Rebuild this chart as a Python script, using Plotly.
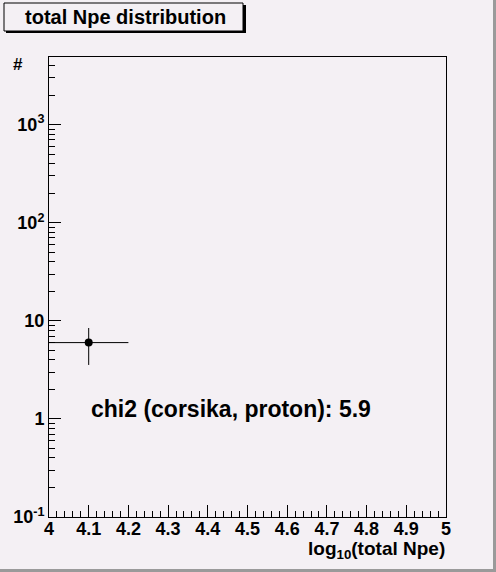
import plotly.graph_objects as go

# ---- data ----
bin_centers = [4.1]
counts = [6]
count_err = [2.45]
bin_half_width = [0.1]

x_tick_vals = [4.0, 4.1, 4.2, 4.3, 4.4, 4.5, 4.6, 4.7, 4.8, 4.9, 5.0]
x_tick_text = ["4", "4.1", "4.2", "4.3", "4.4", "4.5", "4.6", "4.7", "4.8", "4.9", "5"]
y_tick_vals = [0.1, 1, 10, 100, 1000]
y_tick_text = ["10<sup>-1</sup>", "1", "10", "10<sup>2</sup>", "10<sup>3</sup>"]
y_minor_vals = [m * d for d in [0.1, 1, 10, 100, 1000] for m in range(2, 10)]

title_text = "total Npe distribution"
chi2_text = "chi2 (corsika, proton): 5.9"
x_title = "log<sub>10</sub>(total Npe)"
y_title = "#"

W, H = 496, 572
L, R, T, B = 49, 50, 57, 55
PW, PH = W - L - R, H - T - B
BG = "#f4f0f4"
FONT = "Liberation Sans"


def px(x):
    return (x - L) / PW


def py(y):
    return (H - B - y) / PH


fig = go.Figure()
fig.add_trace(go.Scatter(
    x=bin_centers, y=counts, mode="markers",
    marker=dict(color="black", size=8, symbol="circle"),
    error_y=dict(type="data", array=count_err, color="black", thickness=1, width=0),
    error_x=dict(type="data", array=bin_half_width, color="black", thickness=1, width=0),
    showlegend=False,
))

axis_common = dict(
    showgrid=False, zeroline=False, showline=True, linecolor="black", linewidth=1,
    mirror=True, ticks="inside", tickcolor="black", ticklen=12, tickwidth=1,
    automargin=False,
    tickfont=dict(family=FONT, size=18, color="black", weight="bold"),
)

fig.update_xaxes(
    range=[4, 5], tickmode="array", tickvals=x_tick_vals, ticktext=x_tick_text,
    ticklabelstandoff=-5,
    minor=dict(ticks="inside", dtick=0.02, ticklen=6, tickcolor="black", showgrid=False),
    **axis_common,
)
fig.update_yaxes(
    type="log", range=[-1, 3.69], tickmode="array", tickvals=y_tick_vals, ticktext=y_tick_text,
    minor=dict(ticks="inside", tickmode="array", tickvals=y_minor_vals, ticklen=6,
               tickcolor="black", showgrid=False),
    **axis_common,
)

shapes = []
# canvas shadow border (right, bottom)
shapes.append(dict(type="rect", xref="paper", yref="paper",
                   x0=px(W - 3), x1=px(W), y0=py(H), y1=py(0),
                   fillcolor="#9a9a9a", line=dict(width=0), layer="above"))
shapes.append(dict(type="rect", xref="paper", yref="paper",
                   x0=px(0), x1=px(W), y0=py(H), y1=py(H - 3),
                   fillcolor="#9a9a9a", line=dict(width=0), layer="above"))
# title box shadow
shapes.append(dict(type="rect", xref="paper", yref="paper",
                   x0=px(6), x1=px(246), y0=py(33), y1=py(5),
                   fillcolor="black", line=dict(width=0), layer="above"))
# title box
shapes.append(dict(type="rect", xref="paper", yref="paper",
                   x0=px(4), x1=px(243), y0=py(31), y1=py(3),
                   fillcolor=BG, line=dict(color="black", width=1), layer="above"))

annotations = [
    dict(text=title_text, xref="paper", yref="paper", x=px(125), y=py(17),
         xanchor="center", yanchor="middle", showarrow=False,
         font=dict(family=FONT, size=20, color="black", weight="bold")),
    dict(text=y_title, xref="paper", yref="paper", x=px(18), y=py(64),
         xanchor="center", yanchor="middle", showarrow=False,
         font=dict(family=FONT, size=17, color="black", weight="bold")),
    dict(text=x_title, xref="paper", yref="paper", x=px(447), y=py(550),
         xanchor="right", yanchor="middle", showarrow=False,
         font=dict(family=FONT, size=19, color="black", weight="bold")),
    dict(text=chi2_text, xref="x", yref="y", x=4.102, y=0.1,
         xanchor="left", yanchor="middle", showarrow=False,
         font=dict(family=FONT, size=23, color="black", weight="bold")),
]

fig.update_layout(
    width=W, height=H, margin=dict(l=L, r=R, t=T, b=B),
    paper_bgcolor=BG, plot_bgcolor=BG,
    shapes=shapes, annotations=annotations,
)

fig.write_html("out.html", config={"displayModeBar": False},
               post_script="document.body.style.margin='0';")
